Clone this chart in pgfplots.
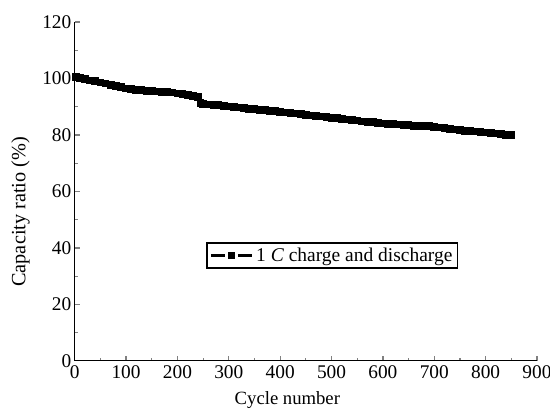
\documentclass[border=0pt]{standalone}
\usepackage{fontspec}
\setmainfont{Liberation Serif}
\usepackage{pgfplots}
\pgfplotsset{compat=1.18}
\begin{document}
\begin{tikzpicture}
\begin{axis}[
  name=ax,
  width=346.5pt, height=254pt, scale only axis,
  xmin=0, xmax=900, ymin=0, ymax=120,
  axis x line*=bottom, axis y line*=left,
  axis line style={line width=0.9pt},
  xtick={0,100,...,900}, ytick={0,20,...,120},
  minor x tick num=1, minor y tick num=1,
  tick align=inside,
  tick style={line width=0.9pt},
  major tick length=4pt, minor tick length=2.2pt,
  /pgf/number format/assume math mode=true,
  ticklabel style={font=\fontsize{14.5}{16}\selectfont},
  yticklabel style={xshift=1pt},
  xlabel={Cycle number}, ylabel={Capacity ratio (\%)},
  xlabel style={font=\fontsize{14}{16}\selectfont, at={(axis description cs:0.46,-0.115)}, anchor=center},
  ylabel style={font=\fontsize{15.2}{17}\selectfont, at={(axis description cs:-0.117,0.44)}, anchor=center},
  legend style={at={(axis description cs:0.285,0.311)}, anchor=west,
    draw=black, line width=0.9pt, font=\fontsize{14.6}{16}\selectfont,
    inner xsep=2pt, inner ysep=1.5pt, row sep=0pt},
  legend cell align=left,
  legend image code/.code={
    \draw[#1, mark=none, line width=1.8pt, dash pattern=on 10.5pt off 10pt] (0pt,0pt) -- (31pt,0pt);
    \draw[#1, only marks, mark size=2pt, mark repeat=2, mark phase=2] plot coordinates {(0pt,0pt) (15.5pt,0pt) (31pt,0pt)};
  },
]
\addplot[black, line width=0.8pt, mark=square*, mark size=2.5pt, mark options={solid}] coordinates {
(3,100.6) (10,100.3) (20,99.8) (30,99.3) (40,99.0) (50,98.6) (60,98.2) (70,97.8) (80,97.3) (90,96.9)
(100,96.5) (110,96.2) (120,96.0) (130,95.8) (140,95.6) (150,95.5) (160,95.4) (170,95.3) (180,95.2) (190,95.0)
(200,94.7) (210,94.4) (220,94.1) (230,93.8) (240,93.5) (245,91.2) (250,91.0) (260,90.8) (270,90.6) (280,90.5) (290,90.3)
(300,90.1) (310,89.9) (320,89.7) (330,89.5) (340,89.3) (350,89.1) (360,88.9) (370,88.8) (380,88.6) (390,88.4)
(400,88.2) (410,88.0) (420,87.8) (430,87.6) (440,87.4) (450,87.1) (460,86.9) (470,86.7) (480,86.5) (490,86.3)
(500,86.1) (510,85.9) (520,85.7) (530,85.5) (540,85.3) (550,85.1) (560,84.8) (570,84.6) (580,84.5) (590,84.3)
(600,84.1) (610,84.0) (620,83.8) (630,83.7) (640,83.5) (650,83.4) (660,83.3) (670,83.3) (680,83.2) (690,83.1)
(700,82.9) (710,82.6) (720,82.4) (730,82.1) (740,81.9) (750,81.7) (760,81.5) (770,81.3) (780,81.2) (790,81.1)
(800,80.9) (810,80.7) (820,80.5) (830,80.3) (840,80.1) (850,79.9)
};
\addlegendentry{1 \textit{C} charge and discharge}
\end{axis}
\pgfresetboundingbox
\path[use as bounding box] ([xshift=-56pt,yshift=-39pt]ax.south west) rectangle ([xshift=9.75pt,yshift=16.5pt]ax.north east);
\end{tikzpicture}
\end{document}
